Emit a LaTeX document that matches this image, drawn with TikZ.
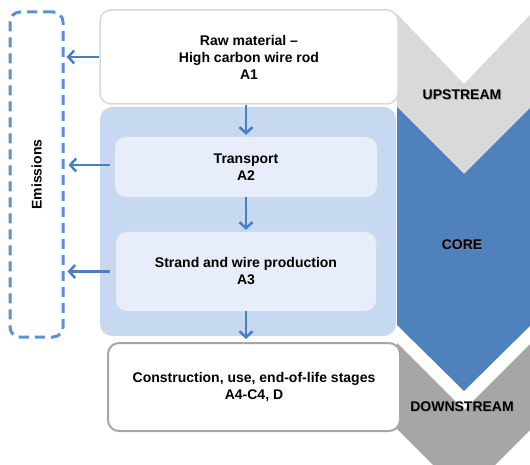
\documentclass[tikz,border=0pt]{standalone}
\usepackage{fontspec}
\setmainfont{Liberation Sans}
\usetikzlibrary{arrows.meta}
\definecolor{arrowblue}{RGB}{74,126,193}
\definecolor{dashblue}{RGB}{91,143,214}
\definecolor{corefill}{RGB}{198,217,241}
\definecolor{innerfill}{RGB}{231,238,249}
\definecolor{upgray}{RGB}{217,217,217}
\definecolor{downgray}{RGB}{166,166,166}
\definecolor{coreblue}{RGB}{79,129,189}
\definecolor{rawborder}{RGB}{217,217,217}
\definecolor{consborder}{RGB}{166,166,166}
\begin{document}
\begin{tikzpicture}[x=1pt,y=-1pt,
  lbl/.style={font=\fontsize{14pt}{17pt}\selectfont\bfseries, align=center, text=black, inner sep=0pt},
  stagebox/.style={lbl, rounded corners=11pt},
  flow/.style={draw=arrowblue, line width=2.5pt, -{Straight Barb[length=6pt,width=13pt]}},
  chevlabel/.style={lbl},
  chevshadow/.style={lbl, text=black!45, opacity=0.6}]
\useasboundingbox (0,0) rectangle (530,465);
\clip (0,0) rectangle (530,465);

% chevrons
\fill[upgray] (397,14) -- (464,84) -- (531,14) -- (531,107) -- (464,174) -- (397,107) -- cycle;
\fill[coreblue] (397,107) -- (464,174) -- (531,107) -- (531,325) -- (464,391) -- (397,325) -- cycle;
\fill[downgray] (397,343) -- (464,410) -- (531,343) -- (531,429) -- (464,496) -- (397,429) -- cycle;

\node[chevshadow] (upS) at (463,96) {UPSTREAM};
\node[chevlabel] (up) at (462,95) {UPSTREAM};
\node[chevshadow] (coreS) at (463,246) {CORE};
\node[chevlabel] (corel) at (462,245) {CORE};
\node[chevshadow] (downS) at (463,408) {DOWNSTREAM};
\node[chevlabel] (down) at (462,407) {DOWNSTREAM};

% emissions
\node[draw=dashblue, line width=3pt, dash pattern=on 10pt off 6pt, rounded corners=10pt,
      minimum width=53pt, minimum height=325pt, inner sep=0pt] (emis) at (36.5,174.5) {};
\node[lbl, rotate=90] (emislabel) at (emis.center) {Emissions};

% core container
\node[fill=corefill, rounded corners=12pt, minimum width=296pt, minimum height=229pt, inner sep=0pt] (core) at (248,221.5) {};

% stage boxes
\node[stagebox, draw=rawborder, line width=1.5pt, fill=white, minimum width=298pt, minimum height=94pt] (raw) at (249,57)
  {Raw material --\\High carbon wire rod\\A1};
\node[stagebox, fill=innerfill, minimum width=262pt, minimum height=60pt] (transport) at (246,167)
  {Transport\\A2};
\node[stagebox, fill=innerfill, minimum width=260pt, minimum height=79pt] (strand) at (246,271.5)
  {Strand and wire production\\A3};
\node[stagebox, draw=consborder, line width=2pt, fill=white, minimum width=292pt, minimum height=88pt] (cons) at (254,387)
  {Construction, use, end-of-life stages\\A4-C4, D};

% vertical flow
\draw[flow] (transport.north |- raw.south) -- ([yshift=2pt]transport.north);
\draw[flow] (transport.south) -- ([yshift=2pt]strand.north);
\draw[flow] (strand.south) -- ([yshift=3pt]strand.south |- cons.north);

% emissions arrows
\draw[flow] (raw.west) -- ([xshift=2pt]raw.west -| emis.east);
\draw[flow] ([xshift=-5pt,yshift=2pt]transport.west) -- ([xshift=4pt,yshift=2pt]transport.west -| emis.east);
\draw[flow] ([xshift=-6pt]strand.west) -- ([xshift=3pt]strand.west -| emis.east);
\end{tikzpicture}
\end{document}
